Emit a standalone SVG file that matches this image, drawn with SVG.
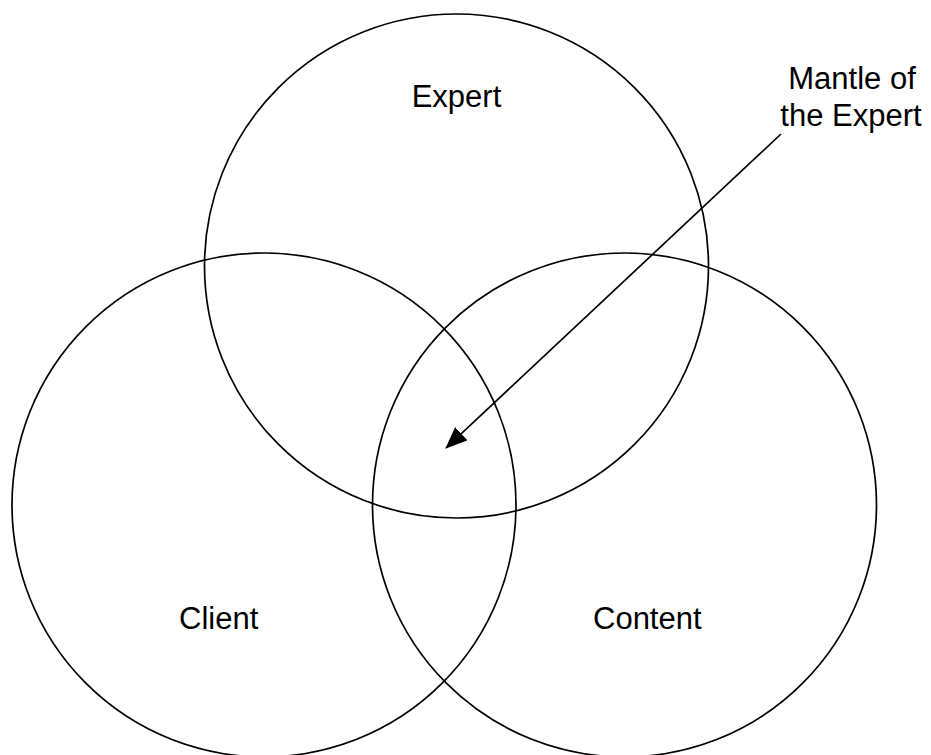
<svg xmlns="http://www.w3.org/2000/svg" width="931" height="755" viewBox="0 0 931 755">
  <style>
    .set { fill: none; stroke: #000; stroke-width: 1.7; }
    .label { font-family: "Liberation Sans", Arial, sans-serif; font-size: 31px; fill: #000; }
    .conn { stroke: #000; stroke-width: 1.7; fill: none; }
  </style>
  <defs>
    <marker id="arrowhead" markerWidth="22" markerHeight="18" refX="21" refY="9" orient="auto" markerUnits="userSpaceOnUse" viewBox="0 0 22 18">
      <path d="M0,0 L22,9 L0,18 Z" fill="#000"/>
    </marker>
  </defs>
  <rect width="931" height="755" fill="#fff"/>

  <g id="expert">
    <circle class="set" cx="456.5" cy="266" r="252"/>
    <text class="label" x="456.5" y="107" text-anchor="middle">Expert</text>
  </g>
  <g id="client">
    <circle class="set" cx="264" cy="505" r="252"/>
    <text class="label" x="179" y="629">Client</text>
  </g>
  <g id="content">
    <circle class="set" cx="624.5" cy="505" r="252"/>
    <text class="label" x="593" y="629">Content</text>
  </g>
  <g id="mantle">
    <text class="label" x="852" y="89" text-anchor="middle">Mantle of</text>
    <text class="label" x="851" y="126" text-anchor="middle">the Expert</text>
  </g>

  <g id="connectors">
    <line class="conn" x1="781" y1="134" x2="446" y2="448" marker-end="url(#arrowhead)"/>
  </g>
</svg>
